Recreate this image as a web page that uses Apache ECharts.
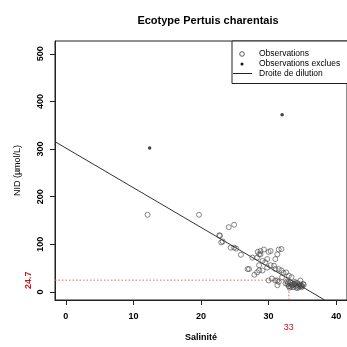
<!DOCTYPE html>
<html>
<head>
<meta charset="utf-8">
<script src="https://cdn.jsdelivr.net/npm/echarts@6/dist/echarts.min.js"></script>
<style>html,body{margin:0;padding:0;background:#fff}#c{width:347px;height:347px}</style>
</head>
<body>
<div id="c"></div>
<script>
// ---- data ----
const titleText = "Ecotype Pertuis charentais";
const xName = "Salinité";
const yName = "NID (µmol/L)";
const xTicks = [0, 10, 20, 30, 40];
const yTicks = [0, 100, 200, 300, 400, 500];
const refX = 33;
const refY = 24.7;

// Observations: [salinity, NID]
const obsSal = [12.1, 19.7, 24.1, 24.9, 22.7, 23.0, 23.2, 24.4, 24.9, 25.2, 25.9, 26.9, 27.1, 27.6,
  27.9, 28.3, 28.3, 28.4, 28.6, 28.6, 28.6, 28.8, 28.8, 29.1, 29.1, 29.3, 29.5, 29.8, 29.8, 30.0,
  30.3, 30.3, 30.5, 30.8, 31.0, 31.0, 31.0, 31.3, 31.3, 31.5, 31.5, 31.5, 31.9, 31.9, 32.0, 32.2,
  32.6, 33.0, 33.4, 33.9, 34.7, 32.5, 32.8, 33.0, 33.2, 33.4, 33.6, 33.8, 34.0, 34.2, 34.4, 34.6,
  34.8, 35.0, 35.2, 32.7, 33.1, 33.5, 33.9, 34.3, 34.7, 35.1, 32.9, 33.3, 33.7, 34.1, 34.5, 34.9,
  31.3, 30.0, 22.8];
const obsNid = [162, 162, 136, 141, 119, 104, 106, 93, 93, 91, 78, 48, 48, 72,
  36, 72, 41, 84, 79, 56, 45, 79, 86, 65, 45, 89, 62, 69, 51, 84,
  56, 86, 28, 55, 69, 48, 24, 79, 14, 48, 21, 89, 45, 90, 31, 40,
  41, 34, 31, 21, 24, 18, 16, 12, 20, 15, 10, 17, 13, 19, 11, 16,
  14, 12, 15, 22, 9, 14, 18, 8, 12, 17, 20, 11, 16, 9, 13, 10,
  24, 24, 118];

// Excluded observations
const exclSal = [12.4, 32.0];
const exclNid = [302, 372];

// Dilution line end points (as read)
const lineSal = [-1.6, 38.3];
const lineNid = [315.5, -17];

// Axis ranges (as read from box edges)
const xMin = -1.6, xMax = 41.6, yMin = -17, yMax = 527;

// ---- chart ----
const font = "'Liberation Sans', Arial, sans-serif";
const zip = (a, b) => a.map((v, i) => [v, b[i]]);

const chart = echarts.init(document.getElementById('c'), null, {renderer: 'canvas'});
chart.setOption({
  animation: false,
  backgroundColor: '#fff',
  title: {
    text: titleText, left: 203, top: 10, textAlign: 'center',
    textStyle: {fontFamily: font, fontSize: 11, fontWeight: 'bold', color: '#000'}
  },
  grid: {left: 55, top: 41, width: 296, height: 264, show: true, borderColor: '#222', borderWidth: 1, backgroundColor: 'transparent'},
  xAxis: [{
    type: 'value', min: xMin, max: xMax,
    name: xName, nameLocation: 'middle', nameGap: 33,
    nameTextStyle: {fontFamily: font, fontSize: 9, fontWeight: 'bold', color: '#000'},
    axisLine: {show: true, onZero: false, lineStyle: {color: '#222', width: 1}},
    axisTick: {show: true, length: 5, customValues: xTicks, lineStyle: {color: '#222'}},
    axisLabel: {customValues: xTicks, margin: 12, fontFamily: font, fontSize: 9, fontWeight: 'bold', color: '#000'},
    splitLine: {show: false}
  }, {
    type: 'value', min: xMin, max: xMax, position: 'bottom',
    axisLine: {show: false}, axisTick: {show: false}, splitLine: {show: false},
    axisLabel: {customValues: [refX], margin: 23, fontFamily: font, fontSize: 9, color: '#c0141a'}
  }],
  yAxis: [{
    type: 'value', min: yMin, max: yMax,
    name: yName, nameLocation: 'middle', nameGap: 33,
    nameTextStyle: {fontFamily: font, fontSize: 9, color: '#000'},
    axisLine: {show: true, onZero: false, lineStyle: {color: '#222', width: 1}},
    axisTick: {show: true, length: 5, customValues: yTicks, lineStyle: {color: '#222'}},
    axisLabel: {customValues: yTicks, rotate: 90, margin: 10, fontFamily: font, fontSize: 9, fontWeight: 'bold', color: '#000'},
    splitLine: {show: false}
  }, {
    type: 'value', min: yMin, max: yMax, position: 'left',
    axisLine: {show: false}, axisTick: {show: false}, splitLine: {show: false},
    axisLabel: {customValues: [refY], rotate: 90, margin: 22, fontFamily: font, fontSize: 9, fontWeight: 'bold', color: '#c0141a'}
  }],
  series: [
    {
      name: 'Repère', type: 'line', xAxisIndex: 0, yAxisIndex: 0,
      data: [[xMin, refY], [refX, refY], [refX, yMin]],
      symbol: 'none', lineStyle: {color: '#f06060', width: 1, type: [1.5, 2]}, z: 1
    },
    {
      name: 'Droite de dilution', type: 'line', data: zip(lineSal, lineNid),
      symbol: 'none', lineStyle: {color: '#333', width: 1}, z: 2
    },
    {
      name: 'Observations', type: 'scatter', data: zip(obsSal, obsNid),
      symbol: 'circle', symbolSize: 5,
      itemStyle: {color: 'rgba(0,0,0,0)', borderColor: '#444', borderWidth: 0.8}, z: 3
    },
    {
      name: 'Observations exclues', type: 'scatter', data: zip(exclSal, exclNid),
      symbol: 'circle', symbolSize: 3.5,
      itemStyle: {color: '#111'}, z: 3
    }
  ],
  graphic: [
    {type: 'rect', z: 100, shape: {x: 232, y: 41, width: 130, height: 42.5},
      style: {fill: '#fff', stroke: '#222', lineWidth: 1}},
    {type: 'circle', z: 101, shape: {cx: 242, cy: 54, r: 2.3}, style: {fill: '#fff', stroke: '#333', lineWidth: 0.8}},
    {type: 'circle', z: 101, shape: {cx: 242, cy: 64, r: 1.5}, style: {fill: '#111'}},
    {type: 'line', z: 101, shape: {x1: 233, y1: 73.5, x2: 252, y2: 73.5}, style: {stroke: '#222', lineWidth: 1}},
    {type: 'text', z: 101, x: 259, y: 54, style: {text: 'Observations', font: '8.5px ' + font, fill: '#000', verticalAlign: 'middle'}},
    {type: 'text', z: 101, x: 259, y: 64, style: {text: 'Observations exclues', font: '8.5px ' + font, fill: '#000', verticalAlign: 'middle'}},
    {type: 'text', z: 101, x: 259, y: 73.5, style: {text: 'Droite de dilution', font: '8.5px ' + font, fill: '#000', verticalAlign: 'middle'}}
  ]
});
</script>
</body>
</html>
